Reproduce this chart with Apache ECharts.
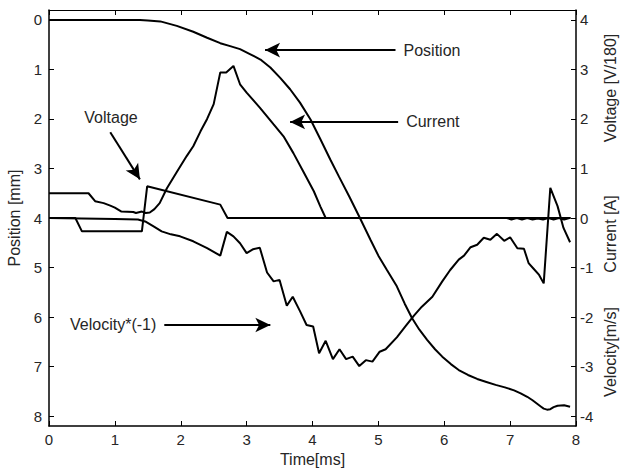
<!DOCTYPE html>
<html><head><meta charset="utf-8">
<script src="https://cdn.jsdelivr.net/npm/echarts@6/dist/echarts.min.js"></script>
<style>html,body{margin:0;padding:0;background:#fff}#chart{width:621px;height:468px}</style>
</head><body><div id="chart"></div>
<script>
// ---- tick labels ----
const timeTicks = [0,1,2,3,4,5,6,7,8];
const positionTicks = [0,1,2,3,4,5,6,7,8];
const rightTicks = [-4,-3,-2,-1,0,1,2,3,4];

// ---- Position [mm] (left axis, inverted) ----
const positionT  = [0, 1.0, 1.38, 1.5, 1.69, 1.94, 2.19, 2.4, 2.6, 2.75, 2.9, 3.05, 3.21, 3.36, 3.51, 3.66, 3.81, 3.97, 4.12, 4.27, 4.4, 4.56, 4.72, 4.88, 5.0, 5.13, 5.28, 5.4, 5.51, 5.62, 5.74, 5.86, 5.97, 6.1, 6.22, 6.36, 6.5, 6.64, 6.78, 6.92, 7.06, 7.16, 7.26, 7.34, 7.41, 7.47, 7.51, 7.56, 7.61, 7.66, 7.72, 7.82, 7.91];
const positionMm = [0, 0, 0, 0.01, 0.03, 0.12, 0.24, 0.36, 0.47, 0.53, 0.59, 0.69, 0.8, 0.96, 1.17, 1.4, 1.67, 2.01, 2.41, 2.82, 3.16, 3.57, 4.0, 4.44, 4.76, 5.05, 5.38, 5.73, 6.02, 6.25, 6.46, 6.65, 6.8, 6.95, 7.07, 7.17, 7.25, 7.31, 7.37, 7.42, 7.48, 7.54, 7.61, 7.68, 7.75, 7.81, 7.85, 7.87, 7.86, 7.82, 7.79, 7.78, 7.81];

// ---- Current [A] (right axis) ----
const currentT = [0, 0.6, 0.7, 0.83, 0.93, 1.0, 1.1, 1.28, 1.32, 1.41, 1.47, 1.53, 1.6, 1.68, 1.79, 1.94, 2.09, 2.19, 2.3, 2.4, 2.5, 2.6, 2.69, 2.8, 2.9, 3.0, 3.2, 3.41, 3.56, 3.71, 3.86, 4.02, 4.12, 4.2, 6.95, 7.02, 7.1, 7.18, 7.26, 7.34, 7.42, 7.5, 7.58, 7.66, 7.74, 7.82, 7.9];
const currentA = [0.5, 0.5, 0.34, 0.3, 0.25, 0.21, 0.13, 0.12, 0.1, 0.13, 0.1, 0.11, 0.18, 0.3, 0.6, 0.93, 1.25, 1.45, 1.75, 2.0, 2.3, 2.94, 2.94, 3.07, 2.7, 2.53, 2.23, 1.89, 1.65, 1.31, 0.94, 0.54, 0.23, 0, 0, -0.03, 0, -0.03, 0, -0.03, -0.01, -0.03, 0, -0.03, 0, -0.03, 0];

// ---- Voltage [V/180] (right axis) ----
const voltageT = [0, 0.4, 0.5, 1.41, 1.49, 2.6, 2.71, 7.92];
const voltageV = [0, 0, -0.27, -0.27, 0.64, 0.27, 0, 0];

// ---- Velocity*(-1) [m/s] (right axis) ----
const velocityT = [0, 0.5, 1.0, 1.35, 1.46, 1.6, 1.71, 1.85, 1.99, 2.19, 2.4, 2.6, 2.7, 2.8, 2.9, 3.0, 3.1, 3.2, 3.31, 3.41, 3.5, 3.61, 3.7, 3.81, 3.91, 4.01, 4.1, 4.2, 4.31, 4.41, 4.51, 4.61, 4.71, 4.81, 4.91, 5.02, 5.11, 5.28, 5.41, 5.54, 5.66, 5.82, 5.97, 6.09, 6.22, 6.3, 6.4, 6.5, 6.6, 6.7, 6.8, 6.91, 7.0, 7.11, 7.21, 7.28, 7.36, 7.44, 7.51, 7.61, 7.72, 7.81, 7.91];
const velocityV = [0, -0.01, -0.02, -0.03, -0.07, -0.18, -0.27, -0.33, -0.37, -0.47, -0.61, -0.76, -0.28, -0.37, -0.51, -0.71, -0.63, -0.6, -1.1, -1.28, -1.25, -1.77, -1.59, -1.88, -2.16, -2.19, -2.73, -2.48, -2.85, -2.65, -2.85, -2.8, -2.99, -2.87, -2.9, -2.7, -2.65, -2.41, -2.19, -1.97, -1.79, -1.59, -1.28, -1.05, -0.84, -0.76, -0.59, -0.54, -0.4, -0.44, -0.32, -0.46, -0.39, -0.61, -0.62, -0.91, -1.03, -1.15, -1.32, 0.61, 0.24, -0.2, -0.49];

// ---- annotation arrows (data coordinates on right axis) ----
const annotationNames = ['Position', 'Current', 'Voltage', 'Velocity*(-1)'];
const annotationFrom = [[5.26, 3.39], [5.30, 1.94], [0.93, 1.73], [1.75, -2.16]];
const annotationTo   = [[3.28, 3.39], [3.66, 1.94], [1.38, 0.78], [3.36, -2.16]];

const zip = (a, b) => a.map((v, i) => [v, b[i]]);
const FONT = '"Liberation Sans", Arial, Helvetica, sans-serif';
const TXT = '#262626';
const labelPads = [0, 0, [0, 0, 0, 10], [0, 0, 9, 0]];

const lineSeries = (name, data, yIdx) => ({
  name, type: 'line', data, yAxisIndex: yIdx, xAxisIndex: 0,
  symbol: 'none', showSymbol: false, smooth: false,
  lineStyle: { color: '#000', width: 2 }, silent: true, animation: false
});

const voltageSeries = lineSeries('Voltage', zip(voltageT, voltageV), 1);
voltageSeries.markLine = {
  silent: true, animation: false,
  symbol: ['none', 'arrow'], symbolSize: [11, 15],
  lineStyle: { color: '#000', width: 2, type: 'solid' },
  label: { show: true, position: 'start', color: TXT, fontSize: 16, fontFamily: FONT, distance: 8 },
  emphasis: { disabled: true },
  data: annotationNames.map((n, i) => [
    { coord: annotationFrom[i], label: { formatter: n, padding: labelPads[i] } },
    { coord: annotationTo[i] }
  ])
};

const chart = echarts.init(document.getElementById('chart'), null, { renderer: 'svg' });
chart.setOption({
  animation: false,
  backgroundColor: '#fff',
  grid: { left: 49, right: 45, top: 10, bottom: 42, containLabel: false, outerBoundsMode: 'none' },
  xAxis: [{
    type: 'value', min: 0, max: 8, interval: 1, position: 'bottom',
    name: 'Time[ms]', nameLocation: 'middle', nameGap: 23,
    nameTextStyle: { color: TXT, fontSize: 16, fontFamily: FONT },
    axisLine: { show: true, onZero: false, lineStyle: { color: '#000', width: 1.5 } },
    axisTick: { show: true, inside: true, length: 5, lineStyle: { color: '#000', width: 1 } },
    axisLabel: { color: TXT, fontSize: 15, fontFamily: FONT, margin: 6, customValues: timeTicks },
    splitLine: { show: false }
  }, {
    type: 'value', min: 0, max: 8, interval: 1, position: 'top',
    axisLine: { show: true, onZero: false, lineStyle: { color: '#000', width: 1 } },
    axisTick: { show: true, inside: true, length: 5, lineStyle: { color: '#000', width: 1 } },
    axisLabel: { show: false },
    splitLine: { show: false }
  }],
  yAxis: [{
    type: 'value', inverse: true, min: -0.2, max: 8.2, position: 'left',
    name: 'Position [mm]', nameLocation: 'middle', nameGap: 25, nameRotate: 90,
    nameTextStyle: { color: TXT, fontSize: 16, fontFamily: FONT },
    axisLine: { show: true, onZero: false, lineStyle: { color: '#000', width: 1.5 } },
    axisTick: { show: true, inside: true, length: 5, customValues: positionTicks, lineStyle: { color: '#000', width: 1 } },
    axisLabel: { color: TXT, fontSize: 15, fontFamily: FONT, margin: 7, customValues: positionTicks },
    splitLine: { show: false }
  }, {
    type: 'value', min: -4.2, max: 4.2, position: 'right',
    axisLine: { show: true, onZero: false, lineStyle: { color: '#000', width: 1.5 } },
    axisTick: { show: true, inside: true, length: 5, customValues: rightTicks, lineStyle: { color: '#000', width: 1 } },
    axisLabel: { color: TXT, fontSize: 15, fontFamily: FONT, margin: 4, customValues: rightTicks },
    splitLine: { show: false }
  }],
  graphic: [
    { type: 'text', x: 610, y: 88, rotation: Math.PI / 2, silent: true,
      style: { text: 'Voltage [V/180]', fill: TXT, font: '16px ' + FONT, align: 'center', verticalAlign: 'middle' } },
    { type: 'text', x: 610, y: 234, rotation: Math.PI / 2, silent: true,
      style: { text: 'Current [A]', fill: TXT, font: '16px ' + FONT, align: 'center', verticalAlign: 'middle' } },
    { type: 'text', x: 610, y: 352, rotation: Math.PI / 2, silent: true,
      style: { text: 'Velocity[m/s]', fill: TXT, font: '16px ' + FONT, align: 'center', verticalAlign: 'middle' } }
  ],
  series: [
    lineSeries('Position', zip(positionT, positionMm), 0),
    lineSeries('Current', zip(currentT, currentA), 1),
    voltageSeries,
    lineSeries('Velocity*(-1)', zip(velocityT, velocityV), 1)
  ]
});
</script>
</body></html>
